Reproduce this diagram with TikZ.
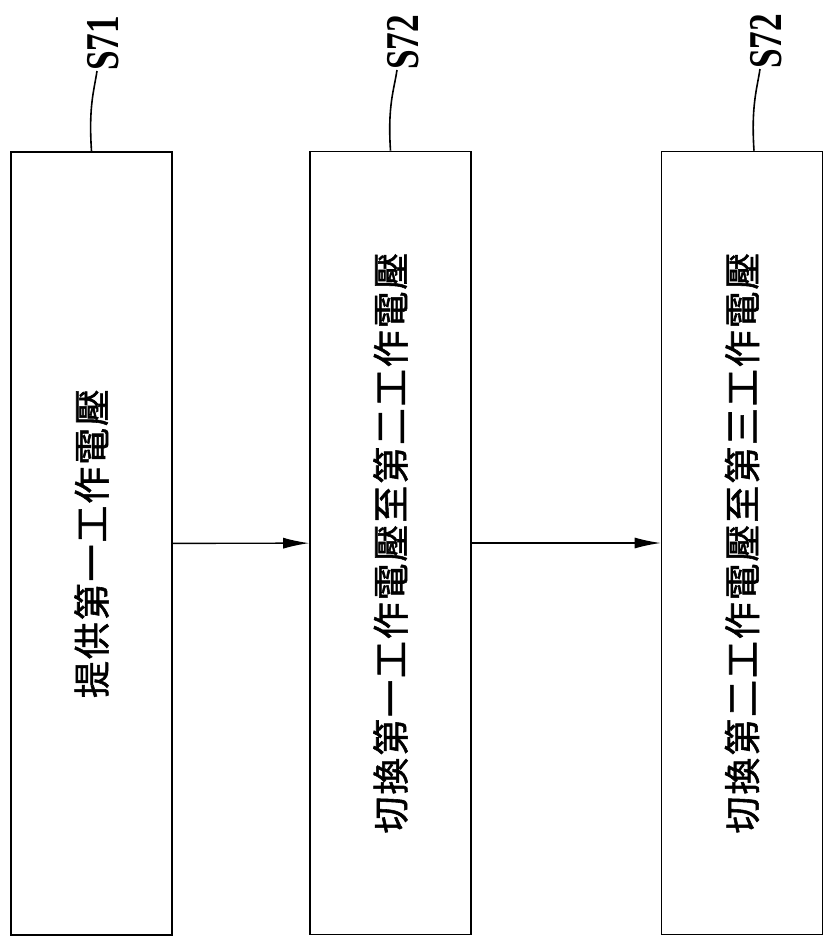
\documentclass[tikz,border=0pt]{standalone}
\usepackage{fontspec}
\setmainfont{Liberation Serif}
\newfontfamily\cjk[LetterSpace=5, FakeBold=1.5]{Noto Sans CJK TC}
\newfontfamily\lblfont[FakeStretch=0.75]{Liberation Serif}
\usetikzlibrary{positioning}
\usetikzlibrary{arrows.meta}

\begin{document}
\begin{tikzpicture}[x=1pt, y=-1pt,
    box/.style={draw, line width=1.6pt, rotate=90, minimum width=783pt, minimum height=161pt, inner sep=0pt, font=\cjk\fontsize{37}{40}\selectfont},
    lbl/.style={rotate=90, anchor=west, inner sep=0pt, font=\lblfont\bfseries\fontsize{47}{50}\selectfont},
    lead/.style={line width=1.6pt},
    arr/.style={-{Latex[length=26pt,width=11pt]}, line width=1.4pt}]
    \useasboundingbox (0,0) rectangle (826,940);

    \node[box] (S1) at (91.5, 543.5) {提供第一工作電壓};
    \node[box] (S2) at (390.5, 543) {切換第一工作電壓至第二工作電壓};
    \node[box] (S3) at (742, 543) {切換第二工作電壓至第三工作電壓};

    \node[lbl] (L1) at (103, 71) {S71};
    \node[lbl] (L2) at (403, 70) {S72};
    \node[lbl] (L3) at (766, 69) {S72};

    \draw[lead] (S1.east) .. controls +(-3,-45) and +(-3,20) .. ([xshift=-6pt]L1.west);
    \draw[lead] (S2.east) .. controls +(-3,-45) and +(-3,20) .. ([xshift=-6pt]L2.west);
    \draw[lead] ([xshift=12pt]S3.east) .. controls +(-3,-45) and +(-3,20) .. ([xshift=-6pt]L3.west);

    \draw[arr] (S1) -- (S2);
    \draw[arr] (S2) -- (S3);
\end{tikzpicture}
\end{document}
